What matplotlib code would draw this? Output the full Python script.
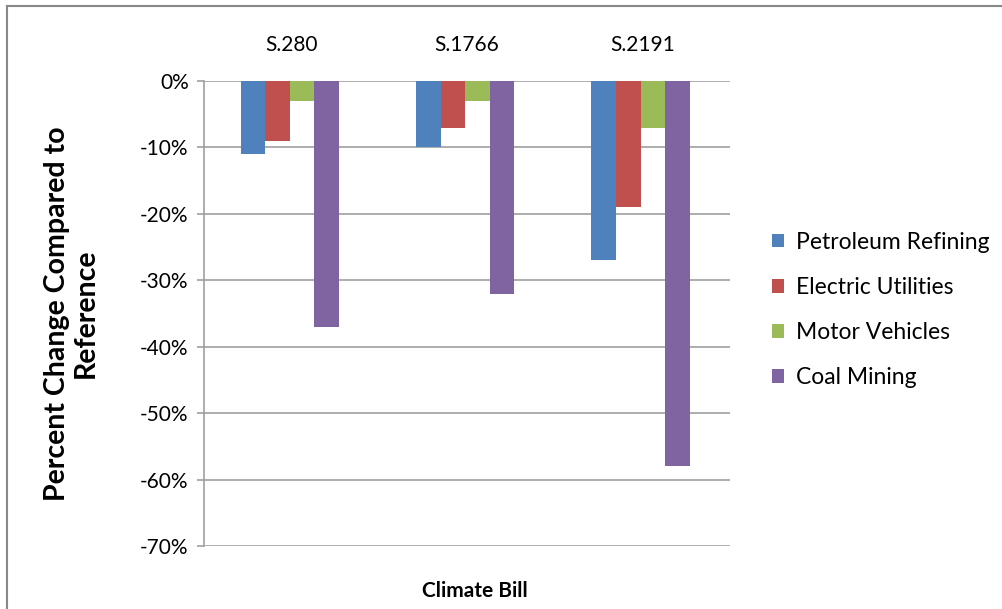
import numpy as np
import matplotlib
matplotlib.use("Agg")
import matplotlib.pyplot as plt
from matplotlib.lines import Line2D
from matplotlib.ticker import FuncFormatter

plt.rcParams['font.family'] = ['Lato', 'DejaVu Sans']

# percent change by climate bill and sector
bills = ['S.280', 'S.1766', 'S.2191']
sectors = ['Petroleum Refining', 'Electric Utilities', 'Motor Vehicles', 'Coal Mining']
petroleum = [-11, -10, -27]
electric = [-9, -7, -19]
motor = [-3, -3, -7]
coal = [-37, -32, -58]
colors = ['#4F81BD', '#C0504D', '#9BBB59', '#8064A2']

series = [petroleum, electric, motor, coal]

fig = plt.figure(figsize=(10.03, 6.09), dpi=100)
ax = fig.add_axes([0.2034, 0.1034, 0.5244, 0.7636])

x = np.arange(len(bills)) + 0.5
w = 0.14
for k, (vals, c, name) in enumerate(zip(series, colors, sectors)):
    ax.bar(x + (k - 1.5) * w - 0.01, vals, width=w, color=c, label=name, zorder=3)

ax.set_xlim(0, 3)
ax.set_ylim(-70, 0)
ax.set_yticks(np.arange(-70, 1, 10))
ax.yaxis.set_major_formatter(FuncFormatter(lambda v, p: '%d%%' % v))
ax.yaxis.grid(True, color='#A0A0A0', linewidth=1.2, zorder=0)

ax.xaxis.tick_top()
ax.set_xticks(x)
ax.set_xticklabels(bills, fontsize=15)
ax.tick_params(axis='x', length=0, pad=19)
ax.tick_params(axis='y', length=5, color='#A0A0A0', width=1.2, labelsize=15, pad=6)

for s in ['top', 'right', 'bottom']:
    ax.spines[s].set_visible(False)
ax.spines['left'].set_color('#A0A0A0')
ax.spines['left'].set_linewidth(1.2)

ax.set_ylabel('Percent Change Compared to\nReference', fontsize=20.5, fontweight='bold',
              labelpad=30, linespacing=1.1)
fig.text(0.473, 0.030, 'Climate Bill', fontsize=15, fontweight='bold', ha='center', va='center')

ax.legend(loc='center left', bbox_to_anchor=(1.04, 0.508), frameon=False, fontsize=16.5,
          handlelength=0.55, handleheight=0.55, handletextpad=0.5, labelspacing=1.05)

# outer chart border (top and left edges)
fig.add_artist(Line2D([0.007, 0.999], [0.990, 0.990], color='#888888', linewidth=1.5))
fig.add_artist(Line2D([0.007, 0.007], [0.0, 0.990], color='#888888', linewidth=1.5))

fig.savefig('out.png', dpi=100)
